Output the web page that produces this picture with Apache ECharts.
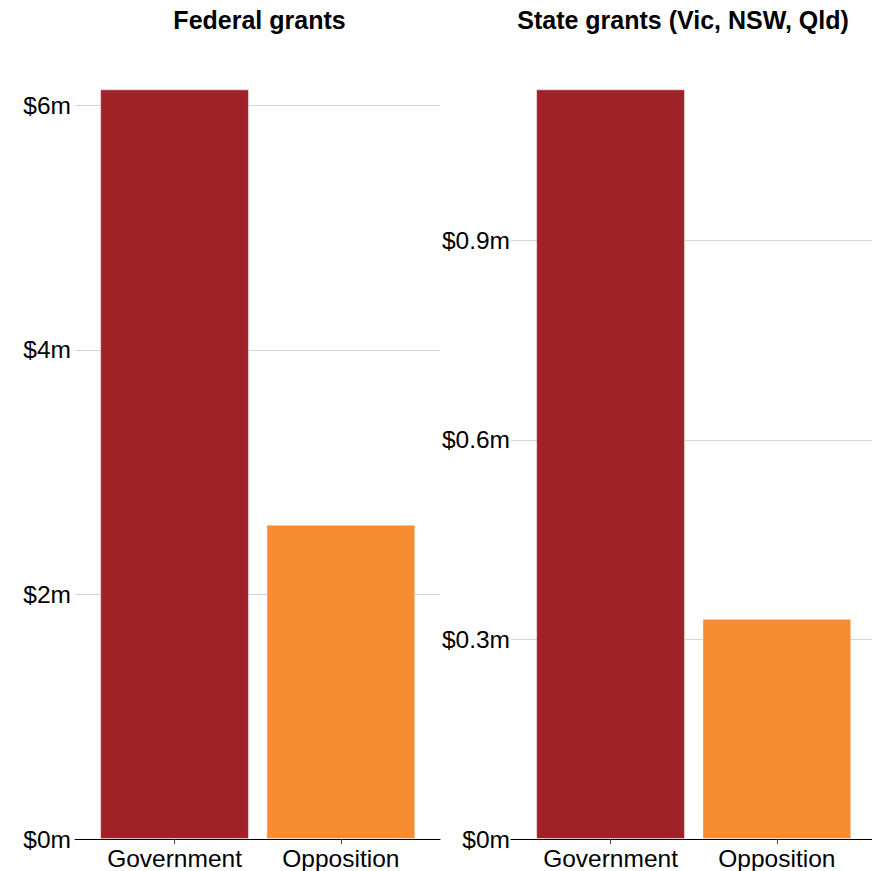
<!DOCTYPE html>
<html>
<head>
<meta charset="utf-8">
<title>Grants by party</title>
<script src="https://cdn.jsdelivr.net/npm/echarts@6/dist/echarts.min.js"></script>
<style>
  html, body { margin: 0; padding: 0; background: #fff; }
  #chart { width: 872px; height: 871px; }
</style>
</head>
<body>
<div id="chart"></div>
<script>
// Grant totals ($m) by recipient side
const categories = ['Government', 'Opposition'];
const barColors = ['#A02229', '#F68D33'];

const federalTitle = 'Federal grants';
const federalValues = [6.13, 2.57];
const federalTickStep = 2;

const stateTitle = 'State grants (Vic, NSW, Qld)';
const stateValues = [1.127, 0.331];
const stateTickStep = 0.3;

const FONT = '"Liberation Sans", Arial, Helvetica, sans-serif';
const GRID_TOP = 89.3;
const GRID_BOTTOM = 32;

function money(v) {
  return '$' + (+v.toFixed(2)) + 'm';
}

function panel(idx, outerLeft, outerWidth, innerLeft, innerWidth, values, step, labelMargin) {
  const g0 = idx * 2, g1 = idx * 2 + 1;
  const maxV = Math.max.apply(null, values);
  const grids = [
    { left: outerLeft, width: outerWidth, top: GRID_TOP, bottom: GRID_BOTTOM, containLabel: false, outerBoundsMode: 'none' },
    { left: innerLeft, width: innerWidth, top: GRID_TOP, bottom: GRID_BOTTOM, containLabel: false, outerBoundsMode: 'none' }
  ];
  const xAxes = [
    {
      gridIndex: g0, type: 'value', min: 0, max: 1,
      axisLine: { show: true, onZero: false, lineStyle: { color: '#000', width: 1 } },
      axisTick: { show: false }, axisLabel: { show: false }, splitLine: { show: false }
    },
    {
      gridIndex: g1, type: 'category', data: categories,
      axisLine: { show: false },
      axisTick: { show: true, alignWithLabel: true, length: 5, lineStyle: { color: '#444', width: 1 } },
      axisLabel: {
        color: '#000', fontSize: 24.5, fontFamily: FONT, margin: 8,
        lineHeight: 22, interval: 0, hideOverlap: false
      },
      splitLine: { show: false }
    }
  ];
  const yAxes = [
    {
      gridIndex: g0, type: 'value', min: 0, max: maxV, interval: step,
      axisLine: { show: false }, axisTick: { show: false },
      axisLabel: {
        color: '#000', fontSize: 24.5, fontFamily: FONT, margin: labelMargin,
        lineHeight: 22, padding: [0, 0, 3, 0],
        showMaxLabel: false, formatter: money
      },
      splitLine: { show: true, showMinLine: false, showMaxLine: false, lineStyle: { color: '#d4d4d8', width: 1 } }
    },
    {
      gridIndex: g1, type: 'value', min: 0, max: maxV, show: false,
      splitLine: { show: false }
    }
  ];
  const series = [{
    type: 'bar', xAxisIndex: g1, yAxisIndex: g1,
    barCategoryGap: '10.5%',
    data: values.map((v, i) => ({
      value: v,
      itemStyle: { color: barColors[i], borderColor: 'rgba(255,255,255,0.45)', borderWidth: 1 }
    })),
    emphasis: { disabled: true },
    animation: false
  }];
  return { grids, xAxes, yAxes, series };
}

const left = panel(0, 75, 365, 91.4, 332.6, federalValues, federalTickStep, 4);
const right = panel(1, 511, 361, 527.4, 332.6, stateValues, stateTickStep, 1);

const chart = echarts.init(document.getElementById('chart'), null, { renderer: 'svg' });
chart.setOption({
  animation: false,
  backgroundColor: '#fff',
  textStyle: { fontFamily: FONT },
  grid: left.grids.concat(right.grids),
  xAxis: left.xAxes.concat(right.xAxes),
  yAxis: left.yAxes.concat(right.yAxes),
  series: left.series.concat(right.series),
  graphic: [
    { type: 'text', x: 259.5, y: 20, style: { text: federalTitle, fill: '#000', font: 'bold 25px ' + FONT, align: 'center', verticalAlign: 'middle' } },
    { type: 'text', x: 683, y: 20, style: { text: stateTitle, fill: '#000', font: 'bold 25px ' + FONT, align: 'center', verticalAlign: 'middle' } }
  ]
});
</script>
</body>
</html>
